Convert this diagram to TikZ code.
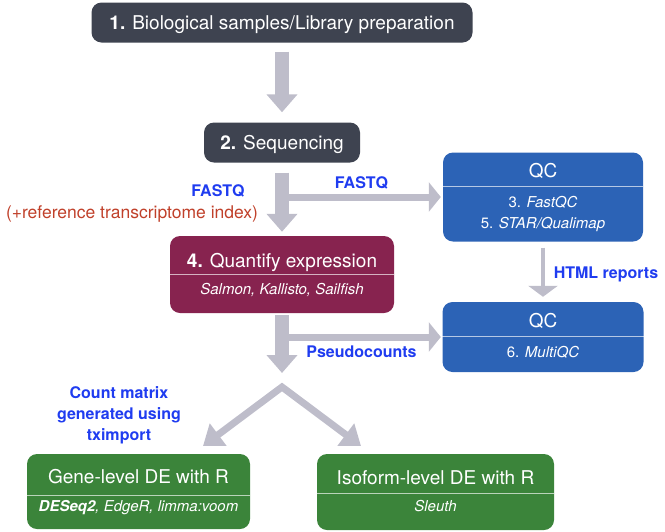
\documentclass[tikz,border=0pt]{standalone}
\usepackage{fontspec}
\setmainfont{TeX Gyre Heros}
\usetikzlibrary{arrows.meta}

\definecolor{slate}{HTML}{3E4350}
\definecolor{wine}{HTML}{87234F}
\definecolor{qcblue}{HTML}{2C63B6}
\definecolor{degreen}{HTML}{3B843A}
\definecolor{flow}{HTML}{BEBDCA}
\definecolor{tagblue}{HTML}{1F3CF0}
\definecolor{tagred}{HTML}{C0402A}

\begin{document}
\begin{tikzpicture}[x=1pt, y=-1pt,
    box/.style={rounded corners=10pt, inner sep=0pt},
    title/.style={text=white, inner sep=0pt, text height=13.7pt, text depth=0pt, font=\fontsize{19}{19}\selectfont},
    sub/.style={text=white, inner sep=0pt, text height=10.8pt, text depth=0pt, font=\fontsize{15}{15}\selectfont\itshape},
    tag/.style={text=tagblue, inner sep=0pt, text height=11.5pt, text depth=0pt, font=\fontsize{16}{16}\selectfont\bfseries},
    divider/.style={draw=white, draw opacity=0.65, line width=1pt},
    bigflow/.style={draw=flow, line width=14pt, -{Triangle[width=30pt, length=18pt]}},
    flowline/.style={draw=flow, line width=7pt, -{Triangle[width=29pt, length=12pt]}},
    thinflow/.style={draw=flow, line width=4.5pt, -{Triangle[width=29pt, length=11pt]}},
    vflow/.style={draw=flow, line width=7pt, line join=miter, {Triangle[width=27pt, length=19pt]}-{Triangle[width=27pt, length=19pt]}}]

        \useasboundingbox (0, 0) rectangle (665, 531);

        \node[box, title, fill=slate, minimum width=381pt, minimum height=40pt] at (282, 22.5) (samples) {\textbf{1.} Biological samples/Library preparation};
        \node[box, title, fill=slate, minimum width=156pt, minimum height=40pt] at (282, 142.5) (seq) {\textbf{2.} Sequencing};

        \node[box, fill=wine, minimum width=224pt, minimum height=77pt] at (282, 274.5) (quant) {};
        \node[title] at (282, 261) (quanttitle) {\textbf{4.} Quantify expression};
        \node[sub] at (282, 289) (quantsub) {Salmon, Kallisto, Sailfish};
        \draw[divider] (quant.west |- 0, 274) -- (quant.east |- 0, 274);

        \node[box, fill=qcblue, minimum width=200pt, minimum height=89pt] at (543, 197) (qcraw) {};
        \node[title] at (543, 171) (qcrawtitle) {QC};
        \node[sub] at (543, 202) (fastqc) {\upshape 3. \itshape FastQC};
        \node[sub] at (543, 223) (qualimap) {\upshape 5. \itshape STAR/Qualimap};
        \draw[divider] (qcraw.west |- 0, 186) -- (qcraw.east |- 0, 186);

        \node[box, fill=qcblue, minimum width=201pt, minimum height=70pt] at (543, 337) (qcmulti) {};
        \node[title] at (543, 321) (qcmultititle) {QC};
        \node[sub] at (543, 352) (multiqc) {\upshape 6. \itshape MultiQC};
        \draw[divider] (qcmulti.west |- 0, 336) -- (qcmulti.east |- 0, 336);

        \node[box, fill=degreen, minimum width=223pt, minimum height=75pt] at (138.5, 491.5) (gene) {};
        \node[title] at (138.5, 477) (genetitle) {Gene-level DE with R};
        \node[sub] at (138.5, 506.5) (genesub) {\textbf{DESeq2}, EdgeR, limma:voom};
        \draw[divider] (gene.west |- 0, 495) -- (gene.east |- 0, 495);

        \node[box, fill=degreen, minimum width=237pt, minimum height=76pt] at (435.5, 492) (isoform) {};
        \node[title] at (435.5, 478) (isoformtitle) {Isoform-level DE with R};
        \node[sub] at (435.5, 506) (isoformsub) {Sleuth};
        \draw[divider] (isoform.west |- 0, 493) -- (isoform.east |- 0, 493);

        \coordinate (fastqfork) at (282, 197);
        \coordinate (pseudofork) at (282, 337);
        \coordinate (vsplit) at (282, 387);
        \coordinate (geneend) at (203, 446);
        \coordinate (isoformend) at (361, 446);

        \draw[bigflow, shorten <=9pt, shorten >=10pt] (samples) -- (seq);
        \draw[bigflow, shorten <=10pt, shorten >=4pt] (seq) -- (quant);
        \draw[flowline, shorten >=2pt] (fastqfork) -- (qcraw);
        \draw[thinflow, shorten <=6pt, shorten >=5pt] (qcraw) -- (qcmulti);
        \draw[bigflow, shorten <=2pt, shorten >=14pt] (quant) -- (vsplit);
        \draw[flowline, shorten >=1.5pt] (pseudofork) -- (qcmulti);
        \draw[vflow] (geneend) -- (vsplit) -- (isoformend);

        \node[tag] at (361.5, 183) (fastqright) {FASTQ};
        \node[tag] at (218, 191) (fastqleft) {FASTQ};
        \node[text=tagred, inner sep=0pt, text height=12.2pt, text depth=0pt, font=\fontsize{17.5}{17.5}\selectfont] at (132, 212) (refindex) {(+reference transcriptome index)};
        \node[tag] at (606, 272.5) (html) {HTML reports};
        \node[tag] at (361.5, 352) (pseudo) {Pseudocounts};
        \node[text=tagblue, inner sep=0pt, align=center, font=\fontsize{16}{21}\selectfont\bfseries] at (119, 415) (txi) {Count matrix\\generated using\\tximport};

        \end{tikzpicture}
\end{document}
